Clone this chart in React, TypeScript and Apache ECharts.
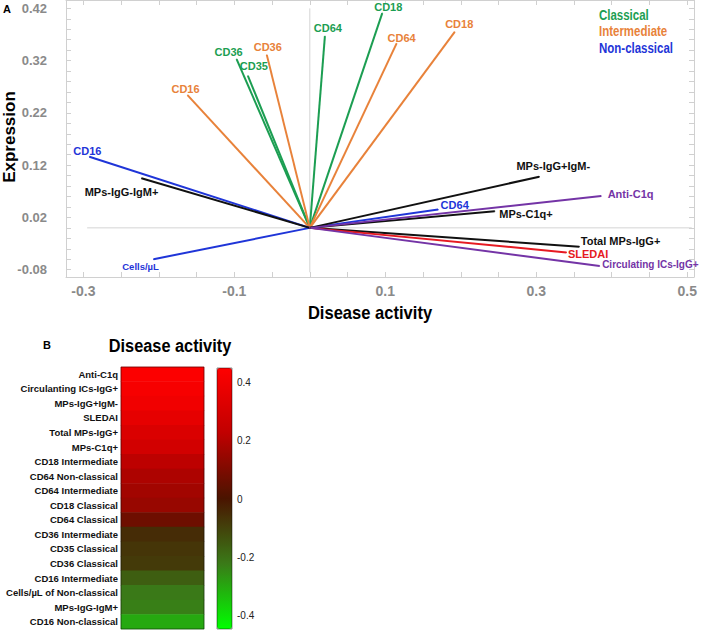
import React, { useEffect, useRef } from 'react';
import * as echarts from 'echarts';

const FONT = '"Liberation Sans", Arial, Helvetica, sans-serif';

// ---------- Panel A data ----------
const vectorNames = [
  'CD64', 'CD18', 'CD36', 'CD35',
  'CD36', 'CD16', 'CD64', 'CD18',
  'CD16', 'Cells/µL', 'CD64',
  'MPs-IgG-IgM+', 'MPs-IgG+IgM-', 'MPs-C1q+', 'Total MPs-IgG+',
  'SLEDAI',
  'Anti-C1q', 'Circulating ICs-IgG+',
];
const vectorGroups = [
  'Classical', 'Classical', 'Classical', 'Classical',
  'Intermediate', 'Intermediate', 'Intermediate', 'Intermediate',
  'Non-classical', 'Non-classical', 'Non-classical',
  'MPs', 'MPs', 'MPs', 'MPs',
  'SLEDAI',
  'Serology', 'Serology',
];
const vectorX = [0.020, 0.096, -0.097, -0.082, -0.057, -0.162, 0.115, 0.192, -0.292, -0.207, 0.170, -0.223, 0.304, 0.245, 0.357, 0.340, 0.386, 0.384];
const vectorY = [0.367, 0.411, 0.323, 0.291, 0.331, 0.254, 0.353, 0.375, 0.136, -0.060, 0.035, 0.095, 0.098, 0.032, -0.036, -0.047, 0.061, -0.073];

const legendGroups = ['Classical', 'Intermediate', 'Non-classical'];

const xTickLabels = [-0.3, -0.1, 0.1, 0.3, 0.5];
const xTicks = [-0.3, -0.25, -0.2, -0.15, -0.1, -0.05, 0, 0.05, 0.1, 0.15, 0.2, 0.25, 0.3, 0.35, 0.4, 0.45, 0.5];
const yTickLabels = [-0.08, 0.02, 0.12, 0.22, 0.32, 0.42];
const yTicks = [-0.08, -0.06, -0.04, -0.02, 0, 0.02, 0.04, 0.06, 0.08, 0.1, 0.12, 0.14, 0.16, 0.18, 0.2, 0.22, 0.24, 0.26, 0.28, 0.3, 0.32, 0.34, 0.36, 0.38, 0.4, 0.42];
const xRange = [-0.323, 0.509];
const yRange = [-0.094, 0.436];
const zeroLineX = [-0.295, 0.506];
const zeroLineY = [-0.085, 0.42];

// ---------- Panel B data ----------
const heatRows = [
  'Anti-C1q', 'Circulanting ICs-IgG+', 'MPs-IgG+IgM-', 'SLEDAI', 'Total MPs-IgG+', 'MPs-C1q+',
  'CD18 Intermediate', 'CD64 Non-classical', 'CD64 Intermediate', 'CD18 Classical', 'CD64 Classical',
  'CD36 Intermediate', 'CD35 Classical', 'CD36 Classical', 'CD16 Intermediate',
  'Cells/µL of Non-classical', 'MPs-IgG-IgM+', 'CD16 Non-classical',
];
const heatValues = [0.44, 0.42, 0.40, 0.36, 0.32, 0.29, 0.22, 0.19, 0.17, 0.15, 0.07, -0.05, -0.07, -0.08, -0.16, -0.22, -0.23, -0.30];
const colorbarTicks = [-0.4, -0.2, 0, 0.2, 0.4];
const colorRange = [-0.445, 0.45];

// ---------- styles ----------
const groupColor: Record<string, string> = {
  Classical: '#1c9e52',
  Intermediate: '#e8823a',
  'Non-classical': '#1f35d8',
  MPs: '#111111',
  SLEDAI: '#e61a22',
  Serology: '#7434a6',
};
const labelLayout: Array<[string, number[], number]> = [
  ['inside', [3, -8.5], 11],
  ['inside', [6, -6], 11],
  ['inside', [-8, -7], 11],
  ['inside', [6, -10], 11],
  ['inside', [1, -7.5], 11],
  ['inside', [-2, -6.5], 11],
  ['inside', [5, -5], 11],
  ['inside', [4.5, -8], 11],
  ['inside', [-2, -6], 11],
  ['inside', [-13, 7], 9.5],
  ['right', [2, -5], 11],
  ['inside', [-20, 14], 11],
  ['inside', [14, -11], 11],
  ['right', [4, 3], 11],
  ['right', [1, -6], 11],
  ['right', [1, 2], 11],
  ['right', [6, -2], 11],
  ['right', [2, -2], 10],
];

const axisGray = '#d0d0d0';
const labelGray = '#8a8a8a';

function buildOption() {
  const vectorSeries = vectorNames.map((name, i) => {
    const color = groupColor[vectorGroups[i]];
    const [pos, off, size] = labelLayout[i];
    return {
      type: 'line',
      name: name + ' ' + vectorGroups[i],
      xAxisIndex: 0,
      yAxisIndex: 0,
      silent: true,
      symbol: 'circle',
      symbolSize: 1,
      showSymbol: true,
      clip: false,
      itemStyle: { color },
      lineStyle: { color, width: 2 },
      z: 3,
      data: [
        [0, 0],
        {
          value: [vectorX[i], vectorY[i]],
          label: {
            show: true,
            formatter: name,
            position: pos,
            distance: 0,
            offset: off,
            color,
            fontFamily: FONT,
            fontWeight: 'bold',
            fontSize: size,
          },
        },
      ],
    };
  });

  const zeroSeries = [
    {
      type: 'line', xAxisIndex: 0, yAxisIndex: 0, silent: true, symbol: 'none', z: 1,
      lineStyle: { color: '#d4d4d4', width: 1 },
      data: [[zeroLineX[0], 0], [zeroLineX[1], 0]],
    },
    {
      type: 'line', xAxisIndex: 0, yAxisIndex: 0, silent: true, symbol: 'none', z: 1,
      lineStyle: { color: '#d4d4d4', width: 1 },
      data: [[0, zeroLineY[0]], [0, zeroLineY[1]]],
    },
  ];

  const heatSeries = {
    type: 'heatmap',
    xAxisIndex: 2,
    yAxisIndex: 2,
    silent: true,
    data: heatValues.map((v, i) => [0, i, v]),
  };

  const valueAxisCommon = {
    type: 'value',
    splitLine: { show: false },
    axisLine: { show: true, onZero: false, lineStyle: { color: axisGray, width: 1 } },
  };

  const option: any = {
    animation: false,
    backgroundColor: '#ffffff',
    textStyle: { fontFamily: FONT },
    grid: [
      { left: 66, top: 0, width: 628, height: 277 },
      { left: 121, top: 367, width: 83, height: 262, show: true, z: 5, borderColor: 'rgba(0,0,0,0.45)', borderWidth: 1, backgroundColor: 'transparent' },
      { left: 217, top: 368, width: 15, height: 261, show: true, z: 10, borderColor: 'rgba(0,0,0,0.45)', borderWidth: 1, backgroundColor: 'transparent' },
    ],
    xAxis: [
      {
        ...valueAxisCommon, gridIndex: 0, position: 'bottom', min: xRange[0], max: xRange[1],
        axisTick: { show: true, inside: true, length: 5, customValues: xTicks, lineStyle: { color: axisGray } },
        axisLabel: {
          customValues: xTickLabels, formatter: (v: number) => v.toFixed(1),
          color: labelGray, fontWeight: 'bold', fontSize: 14, fontFamily: FONT, margin: 7,
        },
      },
      {
        ...valueAxisCommon, gridIndex: 0, position: 'top', min: xRange[0], max: xRange[1],
        axisTick: { show: true, inside: true, length: 5, customValues: xTicks, lineStyle: { color: axisGray } },
        axisLabel: { show: false },
      },
      { type: 'category', gridIndex: 1, data: ['Disease activity'], show: false },
      { type: 'category', gridIndex: 2, data: [''], show: false },
    ],
    yAxis: [
      {
        ...valueAxisCommon, gridIndex: 0, position: 'left', min: yRange[0], max: yRange[1],
        axisTick: { show: true, inside: true, length: 5, customValues: yTicks, lineStyle: { color: axisGray } },
        axisLabel: {
          customValues: yTickLabels, formatter: (v: number) => v.toFixed(2),
          color: labelGray, fontWeight: 'bold', fontSize: 13, fontFamily: FONT, margin: 19,
        },
      },
      {
        ...valueAxisCommon, gridIndex: 0, position: 'right', min: yRange[0], max: yRange[1],
        axisTick: { show: true, inside: true, length: 5, customValues: yTicks, lineStyle: { color: axisGray } },
        axisLabel: { show: false },
      },
      {
        type: 'category', gridIndex: 1, data: heatRows, inverse: true,
        axisLine: { show: false }, axisTick: { show: false },
        axisLabel: { color: '#111', fontWeight: 'bold', fontSize: 9.5, fontFamily: FONT, margin: 3 },
      },
      {
        type: 'value', gridIndex: 2, position: 'right', min: colorRange[0], max: colorRange[1],
        splitLine: { show: false },
        axisLine: { show: false },
        axisTick: { show: true, inside: true, length: 4, customValues: colorbarTicks, lineStyle: { color: '#333' } },
        axisLabel: {
          customValues: colorbarTicks, formatter: (v: number) => (v === 0 ? '0' : v.toFixed(1)),
          color: '#222', fontSize: 10, fontFamily: FONT, margin: 5,
        },
      },
    ],
    visualMap: {
      type: 'continuous',
      seriesIndex: vectorSeries.length + zeroSeries.length,
      min: colorRange[0],
      max: colorRange[1],
      calculable: false,
      hoverLink: false,
      orient: 'vertical',
      left: 217,
      top: 368,
      itemWidth: 15,
      itemHeight: 261,
      padding: 0,
      text: ['', ''],
      inRange: { color: ['#00ff00', '#3a7a18', '#4a1400', '#c00000', '#ff0000'] },
    },
    graphic: [
      { type: 'text', left: 3, top: 3, style: { text: 'A', font: 'bold 11px ' + FONT, fill: '#000' } },
      { type: 'text', left: 43, top: 339, style: { text: 'B', font: 'bold 11px ' + FONT, fill: '#000' } },
      {
        type: 'text', x: 9, y: 137, rotation: Math.PI / 2,
        style: { text: 'Expression', font: 'bold 17px ' + FONT, fill: '#000', align: 'center', verticalAlign: 'middle' },
      },
      {
        type: 'text', x: 370, y: 313, scaleX: 0.92,
        style: { text: 'Disease activity', font: 'bold 18px ' + FONT, fill: '#000', align: 'center', verticalAlign: 'middle' },
      },
      {
        type: 'text', x: 170, y: 346, scaleX: 0.86,
        style: { text: 'Disease activity', font: 'bold 19px ' + FONT, fill: '#000', align: 'center', verticalAlign: 'middle' },
      },
      ...legendGroups.map((g, i) => ({
        type: 'text', x: 599, y: 15 + i * 16.5, scaleX: 0.82,
        style: { text: g, font: 'bold 14px ' + FONT, fill: groupColor[g], align: 'left', verticalAlign: 'middle' },
      })),
    ],
    series: [...vectorSeries, ...zeroSeries, heatSeries],
  };
  return option;
}

export default function App() {
  const ref = useRef<HTMLDivElement>(null);
  useEffect(() => {
    document.body.style.margin = '0';
    const chart = echarts.init(ref.current!, null, { renderer: 'svg' });
    chart.setOption(buildOption());
    return () => chart.dispose();
  }, []);
  return <div ref={ref} style={{ width: 708, height: 631 }} />;
}
